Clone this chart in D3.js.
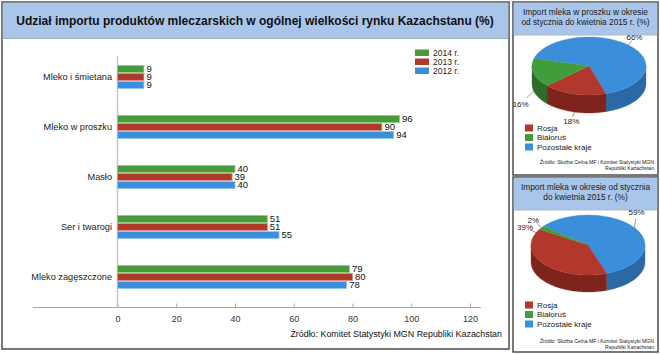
<!DOCTYPE html>
<html><head><meta charset="utf-8">
<script src="https://cdn.jsdelivr.net/npm/d3@7"></script>
<style>
html,body{margin:0;padding:0;background:#fff;}
svg{display:block;font-family:"Liberation Sans",Arial,Helvetica,sans-serif;}
</style></head>
<body>
<svg id="c" width="660" height="355"></svg>
<script>
// ---------- DATA ----------
const mainTitle = "Udział importu produktów mleczarskich w ogólnej wielkości rynku Kazachstanu (%)";
const categories = ["Mleko i śmietana","Mleko w proszku","Masło","Ser i twarogi","Mleko zagęszczone"];
const years = ["2014 r.","2013 r.","2012 r."];
const values2014 = [9,96,40,51,79];
const values2013 = [9,90,39,51,80];
const values2012 = [9,94,40,55,78];
const xTicks = [0,20,40,60,80,100,120];
const mainSource = "Źródło: Komitet Statystyki MGN Republiki Kazachstan";

const pieCategories = ["Rosja","Białoruś","Pozostałe kraje"];
const pie1Title = ["Import mleka w proszku w okresie","od stycznia do kwietnia 2015 r. (%)"];
const pie1Values = [18,16,66];
const pie2Title = ["Import mleka w okresie od stycznia","do kwietnia 2015 r. (%)"];
const pie2Values = [39,2,59];
const pieSource = ["Źródło: Służba Celna MF i Komitet Statystyki MGN","Republiki Kazachstan"];

// ---------- STYLE ----------
const barColors = ["#4a9a3b","#b0392e","#3b8edb"];
const barStroke = ["#93cf83","#dc8f86","#93c8f2"];
const pieTop = ["#b2372c","#419c3c","#3b8fda"];
const pieSide = ["#7e241d","#2c6b29","#2a69a6"];
const bandFill = "#a9c5e9";
const borderCol = "#4d4d4d";
const narrow = "'Liberation Sans Narrow','Liberation Sans',Arial,sans-serif";

const svg = d3.select("#c");

// fit a text to a target width by adjusting its font size
function fitWidth(sel, target){
  const w = sel.node().getComputedTextLength();
  if (w > 0) sel.attr("font-size", (+sel.attr("font-size")) * target / w);
}

// ---------- MAIN PANEL ----------
svg.append("rect").attr("x",2).attr("y",2).attr("width",507).attr("height",347)
  .attr("fill","#fff").attr("stroke",borderCol).attr("stroke-width",1.5);
svg.append("rect").attr("x",2.75).attr("y",2.75).attr("width",505.5).attr("height",35.5)
  .attr("fill",bandFill);
svg.append("line").attr("x1",2.75).attr("x2",508.25).attr("y1",38.5).attr("y2",38.5)
  .attr("stroke","#8c9cb0").attr("stroke-width",0.8);
svg.append("text").attr("x",255).attr("y",25).attr("text-anchor","middle")
  .attr("font-weight","bold").attr("font-size",12).attr("fill","#111").text(mainTitle);

const x = d3.scaleLinear().domain([0,120]).range([117.5,470]);
const y0 = d3.scaleBand().domain(categories).range([52,302]).paddingInner(0.5).paddingOuter(0.25);
const y1 = d3.scaleBand().domain(years).range([0,y0.bandwidth()]).padding(0.12);
const seriesVals = [values2014, values2013, values2012];

// axis line
svg.append("line").attr("x1",33).attr("x2",481).attr("y1",307.5).attr("y2",307.5)
  .attr("stroke","#a8a8a8").attr("stroke-width",1);
const ax = svg.append("g").attr("transform","translate(0,307.5)")
  .call(d3.axisBottom(x).tickValues(xTicks).tickSize(-4).tickPadding(8).tickFormat(d3.format("d")));
ax.select(".domain").remove();
ax.selectAll(".tick line").attr("stroke","#a8a8a8");
ax.selectAll(".tick text").attr("font-size",9).attr("fill","#333")
  .attr("font-family","'Liberation Sans',Arial,sans-serif");

// zero line
svg.append("line").attr("x1",x(0)).attr("x2",x(0)).attr("y1",56).attr("y2",307)
  .attr("stroke","#c4c4c4").attr("stroke-width",1.5);

const groups = svg.append("g").selectAll("g").data(categories).join("g")
  .attr("transform",d=>`translate(0,${y0(d)})`);
groups.append("text").attr("x",112).attr("y",y0.bandwidth()/2).attr("dy","0.35em")
  .attr("text-anchor","end").attr("font-size",9.2).attr("fill","#222").text(d=>d);

years.forEach((yr,si)=>{
  groups.append("rect")
    .attr("x",x(0)).attr("y",y1(yr))
    .attr("width",(d,i)=>x(seriesVals[si][i])-x(0))
    .attr("height",y1.bandwidth())
    .attr("fill",barColors[si]).attr("stroke",barStroke[si]).attr("stroke-width",0.8);
  groups.append("text")
    .attr("x",(d,i)=>x(seriesVals[si][i])+2.5)
    .attr("y",y1(yr)+y1.bandwidth()/2).attr("dy","0.36em")
    .attr("font-size",9.5).attr("fill","#111")
    .text((d,i)=>seriesVals[si][i]);
});

// legend
const lg = svg.append("g");
years.forEach((yr,i)=>{
  lg.append("rect").attr("x",415).attr("y",49.5+i*9).attr("width",14).attr("height",6.5)
    .attr("fill",barColors[i]);
  lg.append("text").attr("x",433).attr("y",53+i*9).attr("dy","0.35em")
    .attr("font-size",8.5).attr("fill","#222").text(yr);
});

const ms = svg.append("text").attr("x",502).attr("y",337).attr("text-anchor","end")
  .attr("font-family",narrow).attr("font-size",11).attr("fill","#111").text(mainSource);
fitWidth(ms, 212);

// ---------- PIE PANELS ----------
function piePanel(opt){
  const {top, h, title, values, cx, cy, rx, ry, depth, startDeg, labels} = opt;
  const g = svg.append("g");
  g.append("rect").attr("x",513).attr("y",top).attr("width",145).attr("height",h)
    .attr("fill","#fff").attr("stroke",borderCol).attr("stroke-width",1.5);
  g.append("rect").attr("x",513.75).attr("y",top+0.75).attr("width",143.5).attr("height",32)
    .attr("fill",bandFill);
  g.append("line").attr("x1",513.75).attr("x2",657.25).attr("y1",top+33).attr("y2",top+33)
    .attr("stroke","#8c9cb0").attr("stroke-width",0.7);
  title.forEach((t,i)=>{
    g.append("text").attr("x",585.5).attr("y",top+opt.titleY+i*10).attr("text-anchor","middle")
      .attr("font-size",8.3).attr("fill","#1a1a1a").text(t);
  });

  // order clockwise: Pozostałe, Rosja, Białoruś
  const order = [2,0,1];
  const arcs = d3.pie().sort(null).value(d=>d.v)
    .startAngle(startDeg*Math.PI/180).endAngle(startDeg*Math.PI/180+2*Math.PI)
    (order.map(i=>({i, v:values[i]})));
  const ell = (t,r=1)=>[cx+rx*r*Math.cos(t), cy+ry*r*Math.sin(t)];
  const N = 60;
  const pts = (a,b)=>d3.range(N+1).map(k=>ell(a+(b-a)*k/N));
  const slices = arcs.map(a=>({i:a.data.i, t0:a.startAngle-Math.PI/2, t1:a.endAngle-Math.PI/2}));

  // sides
  slices.forEach(s=>{
    for(let k=-1;k<=2;k++){
      const a=Math.max(s.t0,2*Math.PI*k), b=Math.min(s.t1,2*Math.PI*k+Math.PI);
      if(b>a){
        const up=pts(a,b), dn=up.slice().reverse().map(p=>[p[0],p[1]+depth]);
        g.append("path").attr("d","M"+up.concat(dn).map(p=>p.join(",")).join("L")+"Z")
          .attr("fill",pieSide[s.i]).attr("stroke",pieSide[s.i]).attr("stroke-width",0.3);
      }
    }
  });
  // tops
  slices.forEach(s=>{
    const p=pts(s.t0,s.t1);
    g.append("path").attr("d",`M${cx},${cy}L`+p.map(q=>q.join(",")).join("L")+"Z")
      .attr("fill",pieTop[s.i]).attr("stroke",pieTop[s.i]).attr("stroke-width",0.3);
  });
  // labels
  slices.forEach(s=>{
    const L = labels[s.i];
    const t = s.t0+(s.t1-s.t0)*L.f;
    let [ax_,ay_] = ell(t);
    if(L.side) ay_ += depth;
    const tx=ax_+L.dx, ty=ay_+L.dy;
    g.append("line").attr("x1",ax_).attr("y1",ay_)
      .attr("x2",ax_+L.dx*0.55).attr("y2",ay_+L.dy*0.55)
      .attr("stroke","#555").attr("stroke-width",0.6);
    g.append("text").attr("x",tx).attr("y",ty).attr("dy","0.35em").attr("text-anchor","middle")
      .attr("font-size",8).attr("fill","#222").text(values[s.i]+"%");
  });

  // legend
  pieCategories.forEach((c,i)=>{
    g.append("rect").attr("x",525).attr("y",top+opt.legY+i*9.5-3.5).attr("width",8).attr("height",7)
      .attr("fill",pieTop[i]);
    g.append("text").attr("x",537).attr("y",top+opt.legY+i*9.5).attr("dy","0.35em")
      .attr("font-size",8).attr("fill","#222").text(c);
  });
  pieSource.forEach((t,i)=>{
    const st = g.append("text").attr("x",654).attr("y",top+opt.srcY+i*6.2).attr("text-anchor","end")
      .attr("font-family",narrow).attr("font-size",6.2).attr("fill","#222").text(t);
    fitWidth(st, i===0?114:49);
  });
}

piePanel({top:2, h:173, title:pie1Title, values:pie1Values, titleY:13,
  cx:589, cy:66, rx:57, ry:29, depth:18, startDeg:-75, legY:126, srcY:161.5,
  labels:[{f:0.5,dx:-3,dy:9,side:true},{f:0.5,dx:-13,dy:13,side:true},{f:0.5,dx:6,dy:-8}]});
piePanel({top:177, h:175, title:pie2Title, values:pie2Values, titleY:13,
  cx:588, cy:245, rx:57, ry:30, depth:17, startDeg:-51.4, legY:128, srcY:166,
  labels:[{f:0.95,dx:-11,dy:-5},{f:0.5,dx:-8,dy:-8},{f:0.5,dx:2,dy:-16}]});
</script>
</body></html>
